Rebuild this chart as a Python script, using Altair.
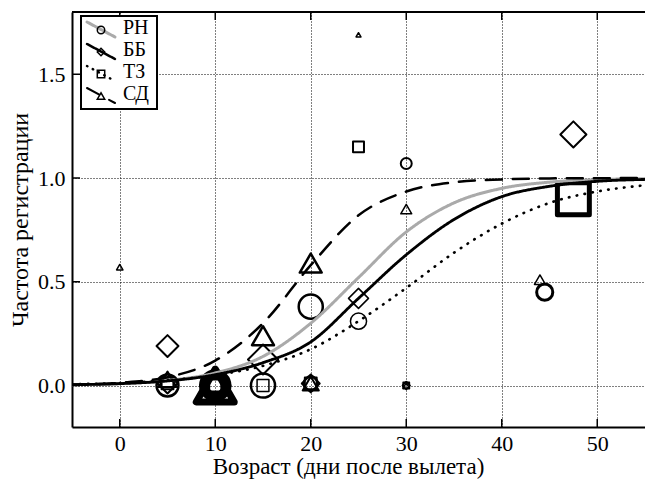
import altair as alt
import pandas as pd

series = ["РН", "ББ", "ТЗ", "СД"]

# fitted curves
curve_x = [-5, 0, 5, 10, 15, 20, 25, 30, 35, 40, 45, 50, 55]
rn_curve = [0.004, 0.009, 0.024, 0.06, 0.14, 0.30, 0.52, 0.74, 0.88, 0.95, 0.98, 0.992, 0.997]
bb_curve = [0.004, 0.009, 0.022, 0.052, 0.11, 0.21, 0.42, 0.63, 0.80, 0.91, 0.96, 0.984, 0.993]
tz_curve = [0.006, 0.012, 0.025, 0.05, 0.095, 0.175, 0.31, 0.47, 0.64, 0.78, 0.88, 0.935, 0.965]
sd_curve = [0.004, 0.013, 0.04, 0.12, 0.30, 0.58, 0.82, 0.935, 0.979, 0.993, 0.998, 0.999, 1.0]

# observed points: x, y, n (sample weight -> marker area), w (line weight)
rn_x = [5, 10, 15, 20, 20, 25, 30, 30, 44.5]
rn_y = [0.0, 0.0, 0.0, 0.38, 0.01, 0.31, 1.07, 0.0, 0.45]
rn_n = [24, 30, 29, 29, 10, 13, 6, 2, 13]
rn_w = [2.5, 8, 2.5, 2.5, 2, 1.5, 2, 1.5, 3]

bb_x = [5, 5, 10, 15, 20, 25, 30, 47.5]
bb_y = [0.19, 0.01, 0.0, 0.125, 0.01, 0.42, 0.0, 1.21]
bb_n = [24, 20, 34, 45, 16, 20, 3, 34]
bb_w = [2, 2, 6, 2, 2, 1.5, 1.5, 2]

tz_x = [5, 10, 15, 20, 25, 30, 47.5]
tz_y = [0.01, 0.0, 0.0, 0.01, 1.15, 0.0, 0.90]
tz_n = [7, 10, 7, 7, 6, 2, 51]
tz_w = [2, 4, 1.5, 2, 2, 1.5, 5]

sd_x = [0, 5, 10, 15, 20, 20, 25, 30, 30, 44]
sd_y = [0.57, 0.03, 0.0, 0.24, 0.59, 0.01, 1.69, 0.85, 0.0, 0.51]
sd_n = [2, 16, 72, 24, 24, 13, 1.2, 6, 2, 6]
sd_w = [1.5, 2, 7, 2.5, 2.5, 2, 1.5, 1.5, 1.5, 1.5]

x_ticks = [0, 10, 20, 30, 40, 50]
y_ticks = [0.0, 0.5, 1.0, 1.5]

x_title = "Возраст (дни после вылета)"
y_title = "Частота регистрации"

FONT = "'Liberation Serif', 'Times New Roman', 'DejaVu Serif', serif"
FS = 22
W, H = 573, 415

curves = pd.concat([
    pd.DataFrame({"s": name, "x": curve_x, "y": vals})
    for name, vals in zip(series, [rn_curve, bb_curve, tz_curve, sd_curve])
])
points = pd.concat([
    pd.DataFrame({"s": name, "x": xs, "y": ys, "n": ns, "w": ws})
    for name, xs, ys, ns, ws in zip(
        series,
        [rn_x, bb_x, tz_x, sd_x],
        [rn_y, bb_y, tz_y, sd_y],
        [rn_n, bb_n, tz_n, sd_n],
        [rn_w, bb_w, tz_w, sd_w],
    )
])

xscale = alt.Scale(domain=[-5, 55], nice=False, zero=False)
yscale = alt.Scale(domain=[-0.2, 1.8], nice=False, zero=False)

xaxis = alt.Axis(
    values=x_ticks, format="d", grid=True, gridColor="black", gridDash=[1, 2],
    gridWidth=1, gridOpacity=1, ticks=False, labelFont=FONT, labelFontSize=FS,
    labelColor="black", labelPadding=6, domain=True, domainColor="black",
    domainWidth=2, title=x_title, titleFont=FONT, titleFontSize=23,
    titleFontWeight="normal", titleColor="black", titlePadding=1, titleX=276,
)
yaxis = alt.Axis(
    values=y_ticks, format=".1f", grid=True, gridColor="black", gridDash=[1, 2],
    gridWidth=1, gridOpacity=1, ticks=False, labelFont=FONT, labelFontSize=FS,
    labelColor="black", labelPadding=7, domain=True, domainColor="black",
    domainWidth=2, title=y_title, titleFont=FONT, titleFontSize=24,
    titleFontWeight="normal", titleColor="black", titlePadding=5,
)


def X(f="x"):
    return alt.X(f, type="quantitative", scale=xscale, axis=xaxis)


def Y(f="y"):
    return alt.Y(f, type="quantitative", scale=yscale, axis=yaxis)


shape_scale = alt.Scale(domain=series, range=["circle", "diamond", "square", "triangle-up"])
color_scale = alt.Scale(domain=series, range=["#aaaaaa", "black", "black", "black"])
dash_scale = alt.Scale(domain=series, range=[[1, 0], [1, 0], [0.5, 7.5], [16, 11]])
width_scale = alt.Scale(domain=series, range=[3, 2.5, 3, 2])

pts = alt.Chart(points).mark_point(filled=False, color="black", opacity=1, clip=True,
                                   strokeJoin="round").encode(
    x=X(), y=Y(),
    shape=alt.Shape("s:N", scale=shape_scale, legend=None),
    size=alt.Size("n:Q", scale=alt.Scale(domain=[0, 100], range=[0, 2000]), legend=None),
    strokeWidth=alt.StrokeWidth("w:Q", scale=None),
)

lines = alt.Chart(curves).mark_line(interpolate="monotone", strokeCap="round", clip=True).encode(
    x=X(), y=Y(),
    color=alt.Color("s:N", scale=color_scale, legend=None),
    strokeDash=alt.StrokeDash("s:N", scale=dash_scale, legend=None),
    strokeWidth=alt.StrokeWidth("s:N", scale=width_scale, legend=None),
    detail="s:N",
)

xt = pd.DataFrame({"t": x_ticks})
yt = pd.DataFrame({"t": y_ticks})
tick_bottom = alt.Chart(xt).mark_rule(color="black", strokeWidth=1.5).encode(
    x=X("t"), y=alt.value(H), y2=alt.value(H - 8))
tick_top = alt.Chart(xt).mark_rule(color="black", strokeWidth=1.5).encode(
    x=X("t"), y=alt.value(0), y2=alt.value(8))
tick_left = alt.Chart(yt).mark_rule(color="black", strokeWidth=1.5).encode(
    y=Y("t"), x=alt.value(0), x2=alt.value(8))
one = pd.DataFrame({"a": [0]})
top_spine = alt.Chart(one).mark_rule(color="black", strokeWidth=2).encode(
    x=alt.value(0), x2=alt.value(W), y=alt.value(0))

# legend box
legend_layers = [
    alt.Chart(one).mark_rect(fill="white", stroke="black", strokeWidth=2).encode(
        x=alt.value(9), x2=alt.value(85), y=alt.value(4), y2=alt.value(97))
]
leg_style = [
    ("#aaaaaa", [1, 0], 3, "circle"),
    ("black", [1, 0], 2.5, "diamond"),
    ("black", [0.5, 6], 2.5, "square"),
    ("black", [14, 11], 2, "triangle-up"),
]
leg_y = [17, 39, 61, 83]
for name, (col, dash, sw, shp), yy in zip(series, leg_style, leg_y):
    legend_layers.append(
        alt.Chart(one).mark_rule(color=col, strokeDash=dash, strokeWidth=sw, strokeCap="round").encode(
            x=alt.value(15), x2=alt.value(43), y=alt.value(yy - 7), y2=alt.value(yy + 8)))
    legend_layers.append(
        alt.Chart(one).mark_point(shape=shp, filled=False, color="black", size=55,
                                  strokeWidth=1.5, opacity=1).encode(
            x=alt.value(29), y=alt.value(yy + 1)))
    legend_layers.append(
        alt.Chart(one).mark_text(text=name, font=FONT, fontSize=20, align="left",
                                 baseline="middle", color="black").encode(
            x=alt.value(51), y=alt.value(yy - 1)))

chart = alt.layer(
    pts, lines, tick_bottom, tick_top, tick_left, top_spine, *legend_layers
).properties(
    width=W, height=H,
    autosize=alt.AutoSizeParams(type="none"),
    padding={"left": 72, "top": 12, "right": 0, "bottom": 52},
    background="white",
).configure_view(stroke=None)

chart.save("out.html", embed_options={"renderer": "svg", "actions": False})
